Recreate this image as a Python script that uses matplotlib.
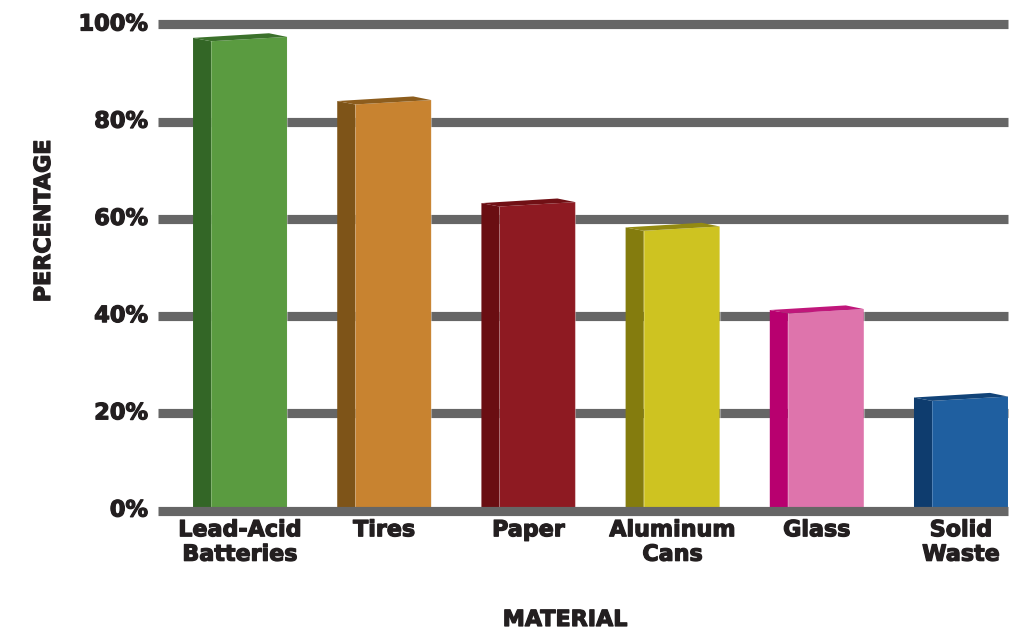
import matplotlib
matplotlib.use("Agg")
import matplotlib.pyplot as plt
from matplotlib.patches import Polygon
import matplotlib.patheffects as pe
import numpy as np
from matplotlib.colors import to_rgb

categories = ["Lead-Acid\nBatteries", "Tires", "Paper", "Aluminum\nCans", "Glass", "Solid\nWaste"]
values = [97, 84, 63, 58, 41, 23]
front_colors = ["#5A9B40", "#C88330", "#8E1A22", "#CEC321", "#DE74AC", "#1F5FA0"]
side_colors = ["#336626", "#7E5418", "#6A0E12", "#847C0E", "#B8006F", "#0E3C6E"]
yticks = [0, 20, 40, 60, 80, 100]
ytick_labels = ["0%", "20%", "40%", "60%", "80%", "100%"]

W, H = 1023, 629
fig = plt.figure(figsize=(W / 100, H / 100), dpi=100)
ax_left, ax_right = 158 / W, 1008 / W
ax_bottom, ax_top = 1 - 510.5 / H, 1 - 24.5 / H
ax = fig.add_axes([ax_left, ax_bottom, ax_right - ax_left, ax_top - ax_bottom])
ax.set_xlim(-0.569, 5.326)
ax.set_ylim(0, 100)
ax.axis("off")

grid_color = "#666666"
for t in yticks:
    ax.axhline(t, color=grid_color, lw=6.6, zorder=5 if t == 0 else 1,
               clip_on=False, solid_capstyle="butt")

side_w = 0.125
front_w = 0.527
slant = 0.45
for i, (v, fc, sc) in enumerate(zip(values, front_colors, side_colors)):
    x0 = i - (side_w + front_w) / 2
    x1 = x0 + side_w
    x2 = x1 + front_w
    top_c = tuple(np.array(to_rgb(sc)) * 0.8 + np.array(to_rgb(fc)) * 0.2)
    ax.add_patch(Polygon([(x1, 0), (x2, 0), (x2, v + slant), (x1, v - slant)],
                         closed=True, facecolor=fc, edgecolor="none", zorder=3))
    ax.add_patch(Polygon([(x0, 0), (x1, 0), (x1, v - slant), (x0, v + 0.25)],
                         closed=True, facecolor=sc, edgecolor="none", zorder=3))
    ax.add_patch(Polygon([(x0, v + 0.25), (x1, v - slant), (x2, v + slant), (x2 - side_w, v + 1.2)],
                         closed=True, facecolor=top_c, edgecolor="none", zorder=3))
    ax.plot([x2, x2], [0, v + slant], color=(1, 1, 1, 0.35), lw=0.8, zorder=4)
    ax.plot([x1, x1], [0, v - slant], color=(1, 1, 1, 0.25), lw=0.6, zorder=4)

txt_color = "#231F20"
effects = [pe.withStroke(linewidth=0.9, foreground=txt_color)]
font = dict(family="DejaVu Sans", fontweight="bold", color=txt_color, path_effects=effects)
for t, lab in zip(yticks, ytick_labels):
    ax.text(-0.637, t, lab, ha="right", va="center", fontsize=16.2, clip_on=False, **font)

for i, lab in enumerate(categories):
    ax.text(i, -2.0, lab, ha="center", va="top", fontsize=16, linespacing=1.28,
            clip_on=False, **font)

fig.text(565 / W, 1 - 620 / H, "MATERIAL", ha="center", va="center", fontsize=16, **font)
fig.text(44 / W, 1 - 221 / H, "PERCENTAGE", ha="center", va="center", rotation=90,
         fontsize=16, **font)

fig.savefig("out.png", dpi=100)
